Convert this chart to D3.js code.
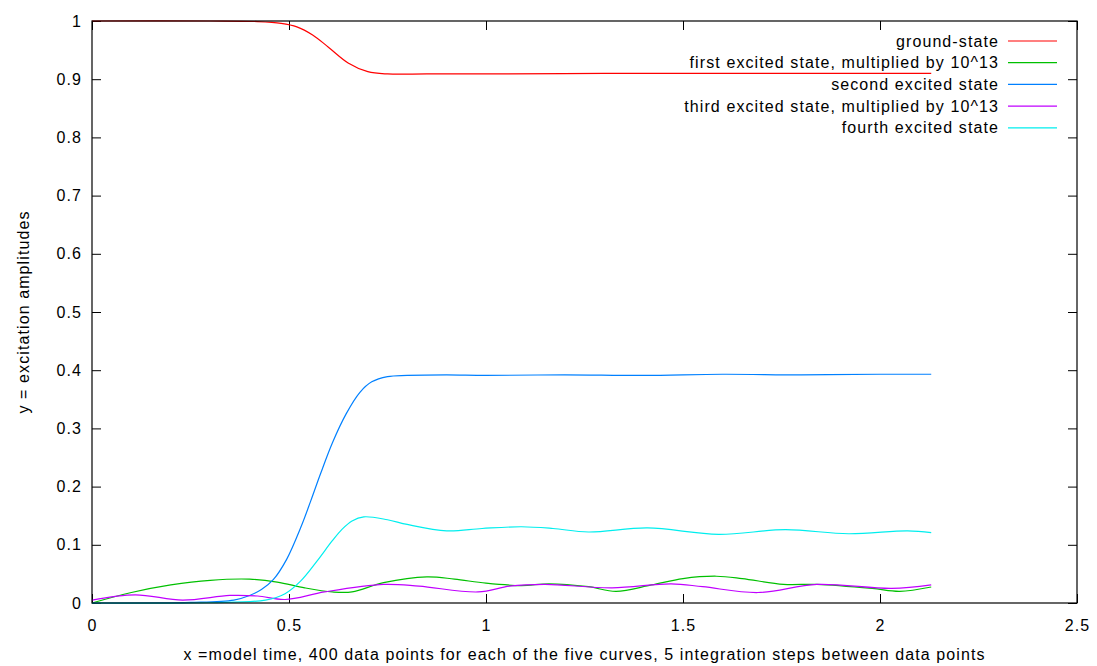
<!DOCTYPE html>
<html>
<head>
<meta charset="utf-8">
<script src="https://cdn.jsdelivr.net/npm/d3@7"></script>
<style>
  body { margin: 0; background: #fff; }
  svg { font-family: "Liberation Sans", Arial, sans-serif; }
  svg text { letter-spacing: 1.1px; }
</style>
</head>
<body>
<div class="chart"></div>
<script>
// data: [x, y] pairs per curve
var groundState = [[0,1.0],[0.3,1.0],[0.42,0.999],[0.48,0.996],[0.52,0.99],[0.56,0.976],[0.6,0.955],[0.65,0.928],[0.7,0.913],[0.75,0.909],[0.85,0.909],[1.0,0.909],[1.3,0.91],[1.6,0.91],[1.9,0.91],[2.13,0.91]];
var firstExcited = [[0,0],[0.1,0.018],[0.2,0.031],[0.3,0.039],[0.4,0.041],[0.47,0.036],[0.54,0.026],[0.61,0.019],[0.66,0.019],[0.74,0.035],[0.85,0.045],[0.92,0.041],[1.0,0.034],[1.09,0.03],[1.16,0.033],[1.26,0.028],[1.33,0.02],[1.42,0.031],[1.5,0.042],[1.585,0.046],[1.65,0.042],[1.755,0.032],[1.84,0.032],[1.98,0.025],[2.05,0.02],[2.13,0.0275]];
var secondExcited = [[0,0],[0.25,0.001],[0.36,0.005],[0.4,0.013],[0.43,0.023],[0.46,0.04],[0.494,0.075],[0.53,0.13],[0.555,0.175],[0.58,0.222],[0.61,0.275],[0.645,0.325],[0.68,0.362],[0.71,0.38],[0.75,0.389],[0.8,0.391],[0.9,0.392],[1.0,0.391],[1.2,0.392],[1.4,0.391],[1.6,0.393],[1.8,0.392],[2.0,0.393],[2.13,0.393]];
var thirdExcited = [[0,0.005],[0.11,0.014],[0.23,0.005],[0.35,0.013],[0.42,0.012],[0.49,0.006],[0.59,0.019],[0.74,0.032],[0.83,0.029],[0.98,0.019],[1.06,0.029],[1.15,0.032],[1.32,0.026],[1.47,0.033],[1.55,0.028],[1.69,0.018],[1.84,0.032],[2.03,0.025],[2.13,0.031]];
var fourthExcited = [[0,0],[0.3,0.0005],[0.44,0.005],[0.49,0.016],[0.53,0.038],[0.57,0.071],[0.61,0.107],[0.635,0.127],[0.66,0.141],[0.69,0.148],[0.75,0.143],[0.8,0.135],[0.9,0.124],[0.99,0.128],[1.09,0.131],[1.17,0.128],[1.26,0.122],[1.41,0.129],[1.59,0.118],[1.76,0.126],[1.92,0.119],[2.07,0.124],[2.13,0.121]];

var seriesNames = ["ground-state", "first excited state, multiplied by 10^13", "second excited state", "third excited state, multiplied by 10^13", "fourth excited state"];
var seriesColors = ["#ff0000", "#00c000", "#0080ff", "#c000ff", "#00eeee"];
var xTicks = [0, 0.5, 1, 1.5, 2, 2.5];
var yTicks = [0, 0.1, 0.2, 0.3, 0.4, 0.5, 0.6, 0.7, 0.8, 0.9, 1];

var allSeries = [groundState, firstExcited, secondExcited, thirdExcited, fourthExcited];

var svgWidth = 1097;
var svgHeight = 666;
var margin = { top: 21, right: 20, bottom: 63, left: 92 };
var width = svgWidth - margin.left - margin.right;
var height = svgHeight - margin.top - margin.bottom;

var svg = d3.select(".chart")
  .append("svg")
  .attr("width", svgWidth)
  .attr("height", svgHeight);

var chart = svg.append("g")
  .attr("transform", "translate(" + margin.left + "," + margin.top + ")");

var xScale = d3.scaleLinear().domain([0, 2.5]).range([0, width]);
var yScale = d3.scaleLinear().domain([0, 1]).range([height, 0]);

// gnuplot style: ticks inside, mirrored on all four sides
var tickLen = 9;
var xAxis = d3.axisBottom(xScale).tickValues(xTicks).tickSize(-tickLen).tickPadding(tickLen + 8).tickFormat(d3.format("~g"));
var yAxis = d3.axisLeft(yScale).tickValues(yTicks).tickSize(-tickLen).tickPadding(tickLen + 1).tickFormat(d3.format("~g"));
var xAxisTop = d3.axisTop(xScale).tickValues(xTicks).tickSize(-tickLen).tickFormat("");
var yAxisRight = d3.axisRight(yScale).tickValues(yTicks).tickSize(-tickLen).tickFormat("");

function styleAxis(g) {
  g.select(".domain").remove();
  g.selectAll(".tick line").attr("stroke", "#000");
  g.selectAll(".tick text").attr("fill", "#000").attr("font-size", "16px")
    .attr("font-family", "Liberation Sans, Arial, sans-serif");
}

chart.append("g").attr("transform", "translate(0," + height + ")").call(xAxis).call(styleAxis);
chart.append("g").call(yAxis).call(styleAxis);
chart.append("g").call(xAxisTop).call(styleAxis);
chart.append("g").attr("transform", "translate(" + width + ",0)").call(yAxisRight).call(styleAxis);

// plot curves
var line = d3.line()
  .x(function (d) { return xScale(d[0]); })
  .y(function (d) { return yScale(d[1]); })
  .curve(d3.curveCatmullRom.alpha(0.5));

chart.selectAll(".curve")
  .data(allSeries)
  .enter()
  .append("path")
  .attr("class", "curve")
  .attr("fill", "none")
  .attr("stroke", function (d, i) { return seriesColors[i]; })
  .attr("stroke-width", 1.2)
  .attr("d", line);

// border
chart.append("rect")
  .attr("x", 0).attr("y", 0)
  .attr("width", width).attr("height", height)
  .attr("fill", "none")
  .attr("stroke", "#000")
  .attr("stroke-width", 1.2);

// legend
var legend = chart.append("g").attr("transform", "translate(" + (998 - margin.left) + "," + (41 - margin.top) + ")");
seriesNames.forEach(function (name, i) {
  var row = legend.append("g").attr("transform", "translate(0," + (i * 21.7) + ")");
  row.append("text")
    .attr("x", 1).attr("y", 0)
    .attr("dy", "0.35em")
    .attr("text-anchor", "end")
    .attr("font-size", "16px")
    .attr("fill", "#000")
    .text(name);
  row.append("line")
    .attr("x1", 10).attr("x2", 59)
    .attr("y1", 0).attr("y2", 0)
    .attr("stroke", seriesColors[i])
    .attr("stroke-width", 1.2);
});

// axis titles
svg.append("text")
  .attr("x", margin.left + width / 2)
  .attr("y", 660)
  .attr("text-anchor", "middle")
  .attr("font-size", "16px")
  .text("x =model time, 400 data points for each of the five curves, 5 integration steps between data points");

svg.append("text")
  .attr("transform", "translate(29," + (margin.top + height / 2) + ")rotate(-90)")
  .attr("text-anchor", "middle")
  .attr("font-size", "16px")
  .text("y = excitation amplitudes");
</script>
</body>
</html>
